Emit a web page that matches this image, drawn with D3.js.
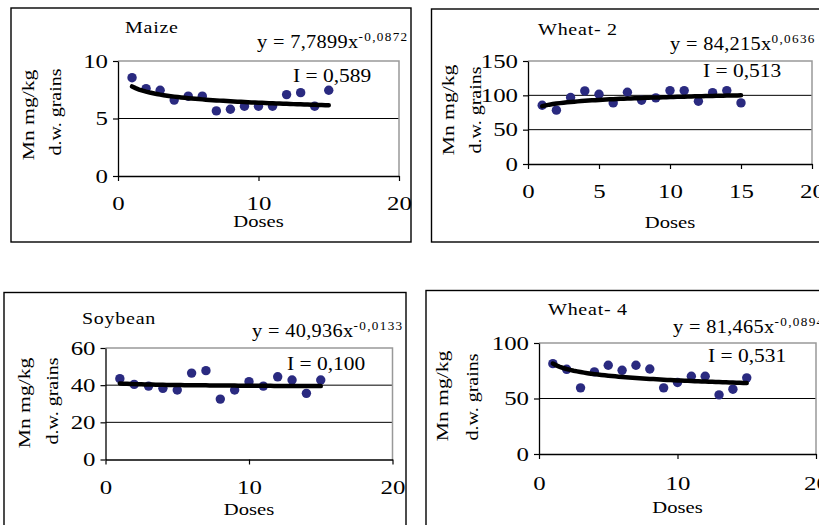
<!DOCTYPE html>
<html>
<head>
<meta charset="utf-8">
<script src="https://cdn.jsdelivr.net/npm/d3@7"></script>
<style>
  body { margin: 0; background: #fff; }
  svg { display: block; }
  text { font-family: "Liberation Serif", "Times New Roman", Times, serif; fill: #000; }
</style>
</head>
<body>
<div class="canva"></div>
<script>
// doses 1..15 and Mn content (mg/kg d.w. grains)
const doses = [1, 2, 3, 4, 5, 6, 7, 8, 9, 10, 11, 12, 13, 14, 15];
const maizeMn   = [8.55, 7.6, 7.46, 6.6, 6.94, 6.94, 5.66, 5.8, 6.07, 6.07, 6.07, 7.08, 7.25, 6.07, 7.46];
const wheat2Mn  = [85.6, 78.4, 96.8, 106.4, 101.6, 89, 104.5, 92.9, 96.3, 106.9, 106.9, 91.4, 104, 106.9, 89];
const soybeanMn = [43.5, 40.4, 39.5, 38.3, 37.4, 46.5, 47.8, 32.5, 37.4, 41.9, 39.5, 44.5, 42.8, 35.6, 42.8];
const wheat4Mn  = [81.4, 76.3, 59.6, 74, 80, 75.4, 80, 76.6, 59.6, 64.4, 70, 70, 53.3, 58.4, 68.6];

// power fits y = a * x^b as printed on the charts
const fitA = [7.7899, 84.215, 40.936, 81.465];
const fitB = [-0.0872, 0.0636, -0.0133, -0.0894];
const fitCoef = ['7,7899', '84,215', '40,936', '81,465'];
const fitExp = ['-0,0872', '0,0636', '-0,0133', '-0,0894'];
const indexLabels = ['I = 0,589', 'I = 0,513', 'I = 0,100', 'I = 0,531'];
const titles = ['Maize', 'Wheat- 2', 'Soybean', 'Wheat- 4'];

const yTicks = [[0, 5, 10], [0, 50, 100, 150], [0, 20, 40, 60], [0, 50, 100]];
const xTicks = [[0, 10, 20], [0, 5, 10, 15, 20], [0, 10, 20], [0, 10, 20]];
const series = [maizeMn, wheat2Mn, soybeanMn, wheat4Mn];

// layout of each panel on the page
const layout = [
  {frame: [11, 8, 411, 242], plot: [118, 61, 399, 176], title: [125, 33], eq: [257, 48], idx: [293, 82],
   yl1: [33.5, 115], yl2: [61, 112], xlab: 210, doses: 227},
  {frame: [431.5, 9, 850, 242], plot: [528, 61, 812, 164], title: [538, 35], eq: [670, 50], idx: [703, 77],
   yl1: [454, 110], yl2: [481, 110], xlab: 198, doses: 228},
  {frame: [4, 292.5, 406, 560], plot: [105.5, 348, 392.5, 459.5], title: [82, 324], eq: [252, 337], idx: [287, 370],
   yl1: [29.5, 403], yl2: [58, 401], xlab: 494, doses: 515},
  {frame: [426, 290.5, 850, 560], plot: [539, 343, 816, 454], title: [548, 315], eq: [673, 333], idx: [708, 362],
   yl1: [448, 396], yl2: [478, 397], xlab: 490, doses: 513}
];

// the original text is drawn horizontally stretched
const tickSx = 1.38;

const svg = d3.select('.canva').append('svg')
  .attr('width', 819)
  .attr('height', 525);

function label(g, pos, txt, size, sx, opts = {}) {
  const rot = opts.rotate ? ' rotate(-90)' : '';
  return g.append('text')
    .attr('transform', `translate(${pos[0]},${pos[1]})${rot} scale(${sx},1)`)
    .attr('text-anchor', opts.anchor || 'start')
    .style('font-size', size + 'px')
    .style('letter-spacing', (opts.ls || 0) + 'px')
    .text(txt);
}

layout.forEach((L, i) => {
  const g = svg.append('g');
  const [px0, py0, px1, py1] = L.plot;
  const yMax = d3.max(yTicks[i]);

  const x = d3.scaleLinear().domain([0, 20]).range([px0, px1]);
  const y = d3.scaleLinear().domain([0, yMax]).range([py1, py0]);

  // outer frame
  g.append('rect')
    .attr('x', L.frame[0]).attr('y', L.frame[1])
    .attr('width', L.frame[2] - L.frame[0]).attr('height', L.frame[3] - L.frame[1])
    .attr('fill', 'none').attr('stroke', '#000').attr('stroke-width', 1.4);

  // gridlines (inner ticks only)
  g.selectAll('.grid')
    .data(yTicks[i].filter(t => t > 0 && t < yMax))
    .enter().append('line')
    .attr('x1', px0).attr('x2', px1)
    .attr('y1', d => y(d)).attr('y2', d => y(d))
    .attr('stroke', '#000').attr('stroke-width', 1);

  // gray plot border top & right
  g.append('path')
    .attr('d', `M${px0},${py0}H${px1}V${py1}`)
    .attr('fill', 'none').attr('stroke', '#999').attr('stroke-width', 1.5);

  // axes
  const yAxis = g.append('g')
    .attr('transform', `translate(${px0},0)`)
    .call(d3.axisLeft(y).tickValues(yTicks[i]).tickSize(5).tickSizeOuter(0).tickPadding(5));
  const xAxis = g.append('g')
    .attr('transform', `translate(0,${py1})`)
    .call(d3.axisBottom(x).tickValues(xTicks[i]).tickSize(5).tickSizeOuter(0).tickFormat(d3.format('d')));

  [yAxis, xAxis].forEach(a => {
    a.select('.domain').attr('stroke', '#000').attr('stroke-width', 1.3);
    a.selectAll('.tick line').attr('stroke', '#000').attr('stroke-width', 1.2);
    a.selectAll('text')
      .style('font-family', '"Liberation Serif", "Times New Roman", serif')
      .style('font-size', '18px')
      .attr('fill', '#000')
      .attr('transform', `scale(${tickSx},1)`);
  });
  yAxis.selectAll('text').attr('dy', '0.35em').attr('x', -10 / tickSx);
  xAxis.selectAll('text').attr('dy', null).attr('y', L.xlab - py1);

  // data points
  g.selectAll('.pt')
    .data(series[i])
    .enter().append('circle')
    .attr('cx', (d, k) => x(doses[k]))
    .attr('cy', d => y(d))
    .attr('r', 4.7)
    .attr('fill', '#2a2a80');

  // power trend line from the printed equation
  const fx = d3.range(doses[0], doses[doses.length - 1] + 0.001, 0.25);
  g.append('path')
    .datum(fx)
    .attr('d', d3.line().x(d => x(d)).y(d => y(fitA[i] * Math.pow(d, fitB[i]))))
    .attr('fill', 'none').attr('stroke', '#000').attr('stroke-width', 4.5)
    .attr('stroke-linecap', 'round');

  // texts
  label(g, L.title, titles[i], 16, 1.25, {ls: 0.6});

  const eq = label(g, L.eq, 'y = ' + fitCoef[i] + 'x', 18.5, 1.1, {ls: 0.3});
  eq.append('tspan').attr('dy', -7).style('font-size', '12px').style('letter-spacing', '1.2px').text(fitExp[i]);

  label(g, L.idx, indexLabels[i], 19.5, 1.1);

  label(g, [(px0 + px1) / 2, L.doses], 'Doses', 16.5, 1.25, {anchor: 'middle'});

  label(g, L.yl1, 'Mn mg/kg', 16, 1.35, {anchor: 'middle', rotate: true});
  label(g, L.yl2, 'd.w. grains', 16, 1.25, {anchor: 'middle', rotate: true});
});
</script>
</body>
</html>
